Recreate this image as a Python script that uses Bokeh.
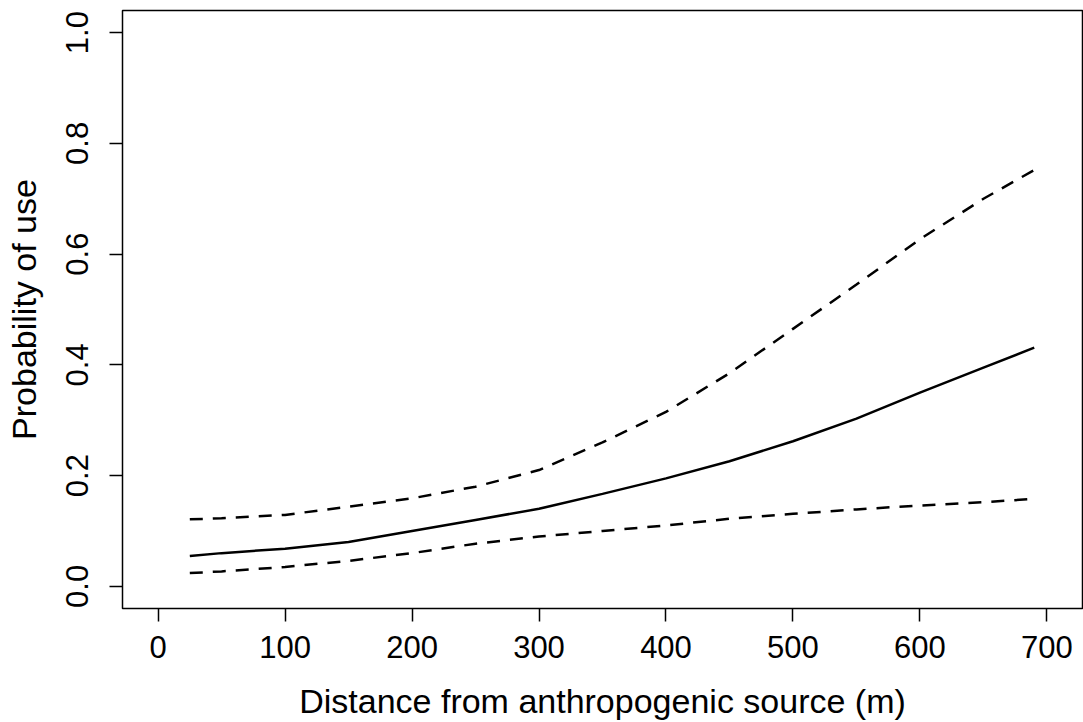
from bokeh.plotting import figure
from bokeh.models import Range1d, FixedTicker, NumeralTickFormatter
from bokeh.embed import file_html
from bokeh.resources import INLINE

# Data
distance = [25, 50, 100, 150, 200, 250, 300, 350, 400, 450, 500, 550, 600, 650, 690]
prob_fit = [0.055, 0.060, 0.068, 0.080, 0.100, 0.120, 0.140, 0.167, 0.195, 0.226,
            0.262, 0.303, 0.350, 0.395, 0.431]
prob_upper = [0.121, 0.123, 0.129, 0.144, 0.159, 0.180, 0.210, 0.260, 0.315, 0.385,
              0.465, 0.545, 0.627, 0.700, 0.752]
prob_lower = [0.024, 0.027, 0.035, 0.046, 0.060, 0.077, 0.090, 0.100, 0.110, 0.122,
              0.131, 0.139, 0.146, 0.152, 0.158]

x_ticks = [0, 100, 200, 300, 400, 500, 600, 700]
y_ticks = [0.0, 0.2, 0.4, 0.6, 0.8, 1.0]

FONT = "Liberation Sans"

p = figure(width=1083, height=722, output_backend="svg", toolbar_location=None,
           x_range=Range1d(-28, 728), y_range=Range1d(-0.04, 1.04),
           min_border_left=122, min_border_right=1, min_border_top=10,
           min_border_bottom=114)

p.background_fill_color = "white"
p.border_fill_color = "white"
p.outline_line_color = "black"
p.outline_line_width = 1.5
p.xgrid.grid_line_color = None
p.ygrid.grid_line_color = None

p.line(distance, prob_fit, line_color="black", line_width=2.5)
p.line(distance, prob_upper, line_color="black", line_width=2.5, line_dash="13 10")
p.line(distance, prob_lower, line_color="black", line_width=2.5, line_dash="13 10")

for ax in (p.xaxis[0], p.yaxis[0]):
    ax.axis_line_color = None
    ax.major_tick_line_color = "black"
    ax.major_tick_line_width = 1.5
    ax.major_tick_in = 0
    ax.major_tick_out = 13
    ax.minor_tick_line_color = None
    ax.major_label_text_font = FONT
    ax.major_label_text_font_size = "31px"
    ax.major_label_text_color = "black"
    ax.axis_label_text_font = FONT
    ax.axis_label_text_font_size = "34px"
    ax.axis_label_text_font_style = "normal"
    ax.axis_label_text_color = "black"

p.xaxis.ticker = FixedTicker(ticks=x_ticks)
p.yaxis.ticker = FixedTicker(ticks=y_ticks)
p.yaxis.formatter = NumeralTickFormatter(format="0.0")
p.yaxis.major_label_orientation = "vertical"

p.xaxis.axis_label = "Distance from anthropogenic source (m)"
p.yaxis.axis_label = "Probability of use"
p.xaxis.major_label_standoff = 14
p.xaxis.axis_label_standoff = 21
p.yaxis.major_label_standoff = 21
p.yaxis.axis_label_standoff = 21

open("out.html", "w").write(file_html(p, INLINE))
